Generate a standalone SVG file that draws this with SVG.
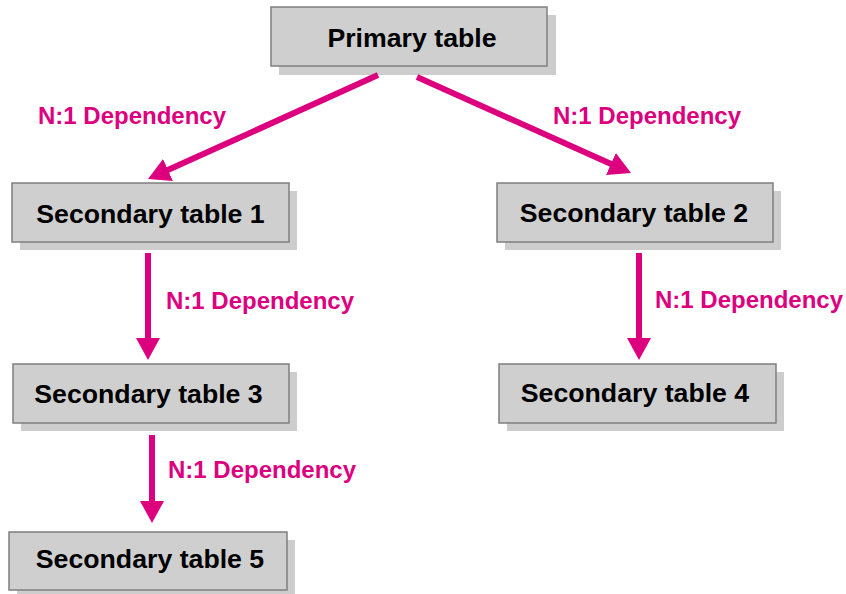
<svg xmlns="http://www.w3.org/2000/svg" width="846" height="594" viewBox="0 0 846 594">
<defs>
<style>
.shadow{fill:#cdcdcd;}
.box{fill:#cfcfcf;stroke:#7f7f7f;stroke-width:1.5;}
.lbl{font-family:"Liberation Sans",Arial,sans-serif;font-weight:bold;font-size:26.7px;fill:#000;text-anchor:middle;}
.dep{font-family:"Liberation Sans",Arial,sans-serif;font-weight:bold;font-size:24px;fill:#dc007f;}
.conn{stroke:#dc007f;stroke-width:6;fill:none;marker-end:url(#ah);}
</style>
<marker id="ah" markerUnits="userSpaceOnUse" markerWidth="24" markerHeight="24" refX="10" refY="12" orient="auto">
<path d="M0,0 L22,12 L0,24 z" fill="#dc007f"/>
</marker>
</defs>
<rect width="846" height="594" fill="#fff"/>

<g id="primary">
<rect class="shadow" x="279" y="15" width="277" height="60"/>
<rect class="box" x="271" y="7" width="276" height="59"/>
<text class="lbl" x="412" y="47">Primary table</text>
</g>
<g id="secondary1">
<rect class="shadow" x="20" y="191" width="277" height="59"/>
<rect class="box" x="12" y="183" width="277" height="59"/>
<text class="lbl" x="150.5" y="223">Secondary table 1</text>
</g>
<g id="secondary2">
<rect class="shadow" x="505" y="191" width="276" height="59"/>
<rect class="box" x="497" y="183" width="276" height="59"/>
<text class="lbl" x="634" y="222">Secondary table 2</text>
</g>
<g id="secondary3">
<rect class="shadow" x="21" y="372" width="276" height="59"/>
<rect class="box" x="13" y="364" width="276" height="59"/>
<text class="lbl" x="148.5" y="403">Secondary table 3</text>
</g>
<g id="secondary4">
<rect class="shadow" x="507" y="372" width="277" height="59"/>
<rect class="box" x="499" y="364" width="277" height="59"/>
<text class="lbl" x="635" y="402">Secondary table 4</text>
</g>
<g id="secondary5">
<rect class="shadow" x="17" y="540" width="278" height="58"/>
<rect class="box" x="9" y="532" width="278" height="58"/>
<text class="lbl" x="150" y="568">Secondary table 5</text>
</g>

<g id="connectors">
<line class="conn" x1="378" y1="75" x2="158.9" y2="174.1"/>
<line class="conn" x1="417" y1="77" x2="620.05" y2="168.09"/>
<line class="conn" x1="148" y1="253" x2="148" y2="348"/>
<line class="conn" x1="639" y1="253" x2="639" y2="348"/>
<line class="conn" x1="152" y1="435" x2="152" y2="511"/>
<text class="dep" x="38" y="124">N:1 Dependency</text>
<text class="dep" x="553" y="124">N:1 Dependency</text>
<text class="dep" x="166" y="309">N:1 Dependency</text>
<text class="dep" x="655" y="308">N:1 Dependency</text>
<text class="dep" x="168" y="478">N:1 Dependency</text>
</g>
</svg>
